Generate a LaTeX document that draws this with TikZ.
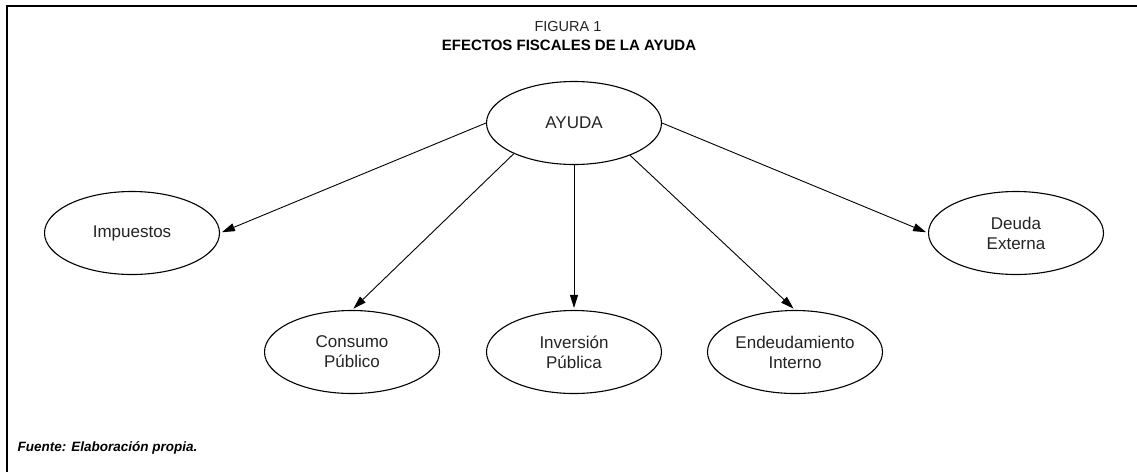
\documentclass[tikz,border=0pt]{standalone}
\usepackage{fontspec}
\setmainfont{Liberation Sans}
\usetikzlibrary{shapes.geometric, arrows.meta}
\definecolor{textgray}{RGB}{35, 35, 35}

\begin{document}
\begin{tikzpicture}[
    x=1pt, y=-1pt,
    effect/.style={ellipse, draw=black, line width=1.1pt, minimum width=175pt,
                minimum height=83pt, inner sep=0pt, align=center, text=textgray,
                font=\fontsize{17}{20}\selectfont},
    arrow/.style={-{Triangle[length=13pt, width=8pt]}, line width=0.9pt, black, shorten >=2pt}
]
\useasboundingbox (0,0) rectangle (1137,472);
\draw[line width=1.8pt] (1137,6) -- (7,6) -- (7,472);
\node[font=\fontsize{14.5}{16}\selectfont, text=textgray] (figura) at (568,27) {FIGURA 1};
\node[font=\fontsize{15}{17}\selectfont\bfseries] (titulo) at (569,45) {EFECTOS FISCALES DE LA AYUDA};
\node[effect] (ayuda) at (574,123) {AYUDA};
\node[effect] (impuestos) at (132,233) {Impuestos};
\node[effect] (deuda) at (1016,233) {Deuda\\Externa};
\node[effect] (consumo) at (352,352) {Consumo\\Público};
\node[effect] (inversion) at (574,352) {Inversión\\Pública};
\node[effect] (endeudamiento) at (795,352) {Endeudamiento\\Interno};
\node[anchor=west, font=\fontsize{13.5}{15}\selectfont\bfseries\itshape] (fuente) at (14,448) {Fuente: Elaboración propia.};
\draw[arrow] (ayuda.west) -- (impuestos.east);
\draw[arrow] (ayuda.207) -- (consumo.north);
\draw[arrow] (ayuda.south) -- (inversion.north);
\draw[arrow] (ayuda.330) -- (endeudamiento.north);
\draw[arrow] (ayuda.east) -- (deuda.west);
\end{tikzpicture}
\end{document}
